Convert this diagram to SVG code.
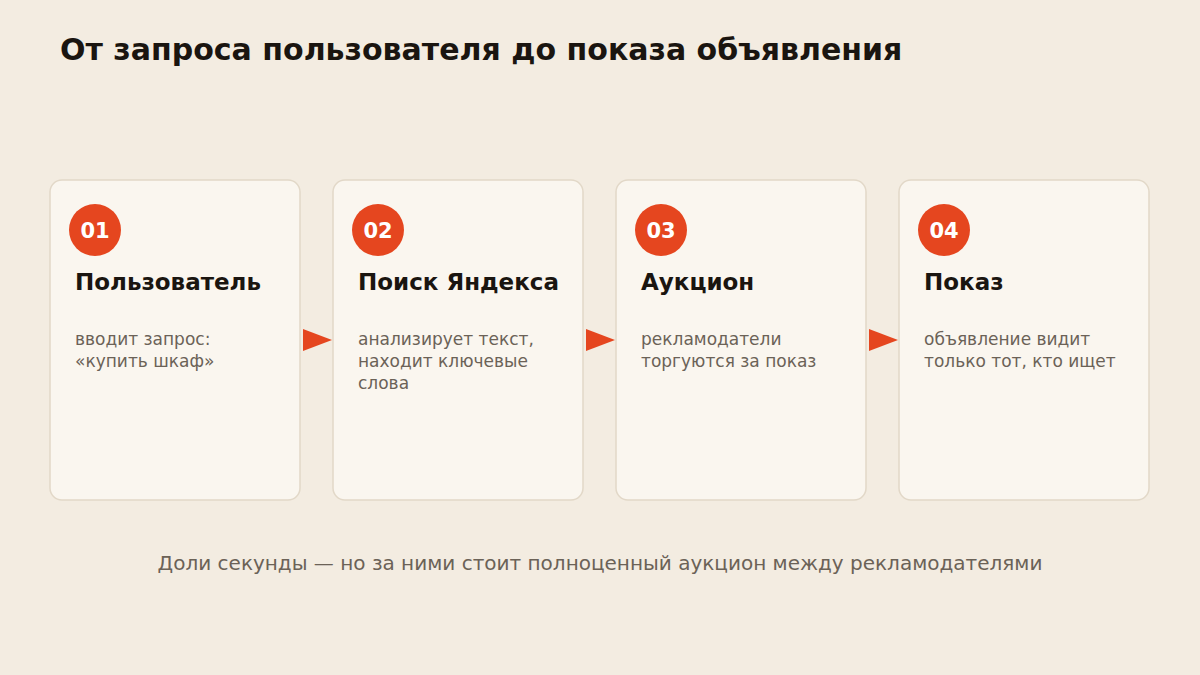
<svg xmlns="http://www.w3.org/2000/svg" width="1200" height="675" viewBox="0 0 1200 675">
<style>
.card{fill:#faf6ef;stroke:#e2d8c8;stroke-width:1.5}
.badge{fill:#e5461f}
.num{font-family:"DejaVu Sans",sans-serif;font-weight:bold;font-size:21px;fill:#ffffff;text-anchor:middle}
.ttl{font-family:"DejaVu Sans",sans-serif;font-weight:bold;font-size:23px;fill:#1a1510}
.desc{font-family:"DejaVu Sans",sans-serif;font-size:17px;fill:#6b6257}
.arrow{fill:#e5461f}
</style>
<rect width="1200" height="675" fill="#f3ece1"/>
<text x="60" y="60" font-family="DejaVu Sans, sans-serif" font-weight="bold" font-size="30" fill="#1a1510">От запроса пользователя до показа объявления</text>
<g id="step1">
<rect class="card" x="50" y="180" width="250" height="320" rx="12"/>
<circle class="badge" cx="95" cy="230" r="26"/>
<text class="num" x="95" y="238">01</text>
<text class="ttl" x="75" y="290">Пользователь</text>
<text class="desc" x="75" y="345">вводит запрос:</text>
<text class="desc" x="75" y="367">«купить шкаф»</text>
</g>
<g id="step2">
<rect class="card" x="333" y="180" width="250" height="320" rx="12"/>
<circle class="badge" cx="378" cy="230" r="26"/>
<text class="num" x="378" y="238">02</text>
<text class="ttl" x="358" y="290">Поиск Яндекса</text>
<text class="desc" x="358" y="345">анализирует текст,</text>
<text class="desc" x="358" y="367">находит ключевые</text>
<text class="desc" x="358" y="389">слова</text>
</g>
<g id="step3">
<rect class="card" x="616" y="180" width="250" height="320" rx="12"/>
<circle class="badge" cx="661" cy="230" r="26"/>
<text class="num" x="661" y="238">03</text>
<text class="ttl" x="641" y="290">Аукцион</text>
<text class="desc" x="641" y="345">рекламодатели</text>
<text class="desc" x="641" y="367">торгуются за показ</text>
</g>
<g id="step4">
<rect class="card" x="899" y="180" width="250" height="320" rx="12"/>
<circle class="badge" cx="944" cy="230" r="26"/>
<text class="num" x="944" y="238">04</text>
<text class="ttl" x="924" y="290">Показ</text>
<text class="desc" x="924" y="345">объявление видит</text>
<text class="desc" x="924" y="367">только тот, кто ищет</text>
</g>
<g id="connectors">
<path class="arrow" d="M303,329 L332,340 L303,351 Z"/>
<path class="arrow" d="M586,329 L615,340 L586,351 Z"/>
<path class="arrow" d="M869,329 L898,340 L869,351 Z"/>
</g>
<text x="600" y="570" text-anchor="middle" font-family="DejaVu Sans, sans-serif" font-size="20" fill="#6b6257">Доли секунды — но за ними стоит полноценный аукцион между рекламодателями</text>
</svg>
